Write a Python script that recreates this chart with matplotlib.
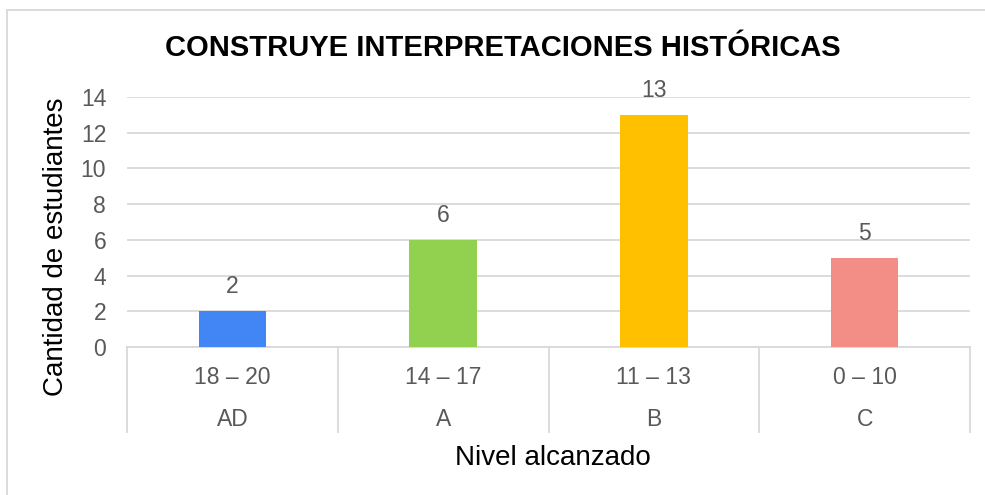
import matplotlib.pyplot as plt
from matplotlib.patches import Rectangle

plt.rcParams['font.family'] = ['Liberation Sans', 'DejaVu Sans']

# data
rangos = ["18 – 20", "14 – 17", "11 – 13", "0 – 10"]
niveles = ["AD", "A", "B", "C"]
cantidad = [2, 6, 13, 5]
colores = ["#4285F4", "#92D050", "#FFC000", "#F28E86"]

grid_col = "#D9D9D9"
txt_col = "#595959"

fig = plt.figure(figsize=(9.85, 4.95), dpi=100)
ax = fig.add_axes([127 / 985, 148 / 495, 843 / 985, 250 / 495])

x = list(range(len(cantidad)))
bars = ax.bar(x, cantidad, width=0.32, color=colores, zorder=3)
for b, v in zip(bars, cantidad):
    ax.text(b.get_x() + b.get_width() / 2, v + 0.72, str(v), ha="center",
            va="bottom", fontsize=16.5, color=txt_col)

ax.set_xlim(-0.5, len(cantidad) - 0.5)
ax.set_ylim(0, 14)
ax.set_yticks(range(0, 15, 2))
ax.tick_params(axis="y", length=0, labelsize=16.5, labelcolor=txt_col, pad=15)
ax.set_xticks([])
ax.yaxis.grid(True, color=grid_col, lw=1.3, zorder=0)
for s in ["top", "right", "left"]:
    ax.spines[s].set_visible(False)
ax.spines["bottom"].set_color(grid_col)
ax.spines["bottom"].set_linewidth(1.3)

# two-level category labels with separators
for i in range(len(cantidad) + 1):
    xp = i - 0.5
    ax.plot([xp, xp], [0, -85 / 250 * 14], color=grid_col, lw=1.3,
            clip_on=False)
for i, (r, n) in enumerate(zip(rangos, niveles)):
    ax.text(i, -31 / 250 * 14, r, ha="center", va="center", fontsize=16.5,
            color=txt_col)
    ax.text(i, -73 / 250 * 14, n, ha="center", va="center", fontsize=16.5,
            color=txt_col)

fig.text(56 / 985, 1 - 247 / 495, "Cantidad de estudiantes", ha="center",
         va="center", rotation=90, fontsize=20, color="black")
fig.text(553 / 985, 1 - 458 / 495, "Nivel alcanzado", ha="center", va="center",
         fontsize=20, color="black")
fig.text(503 / 985, 1 - 48 / 495, "CONSTRUYE INTERPRETACIONES HISTÓRICAS",
         ha="center", va="center", fontsize=21, fontweight="bold", color="black")

# chart border
fig.add_artist(Rectangle((7 / 985, -0.1), 1.0, 1 - 10 / 495 + 0.1,
                         transform=fig.transFigure, fill=False,
                         edgecolor=grid_col, lw=1.3))

fig.savefig("out.png", dpi=100)
